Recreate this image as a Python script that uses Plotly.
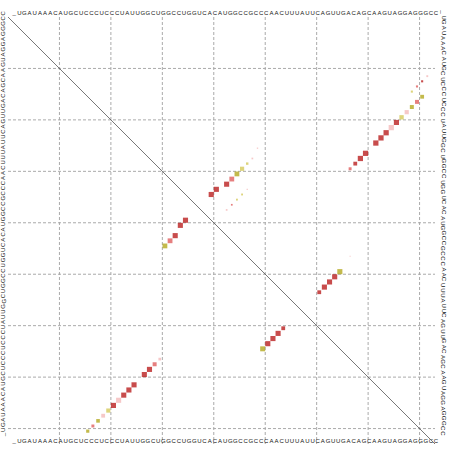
import plotly.graph_objects as go
import math

# label string: "_" followed by the consensus sequence (83 cells)
SEQ = "_UGAUAAACAUGCUCCCUCCCUAUUGGCUGGCCUGGUCACAUGGCCGCCCAACUUUAUUCAGUUGACAGCAAGUAGGAGGGCC"

# upper triangle: pair probabilities (i, j, p, colour class)
up_i = [29, 28, 27, 26, 24, 23, 22, 21, 20, 19, 18, 17, 16, 15,
        14, 13, 12, 11,
        34, 33, 32, 31, 30, 29, 28,
        34, 35, 36, 37, 27, 25, 33,
        53, 52, 51, 50, 49, 46]
up_j = [66, 67, 68, 69, 71, 72, 73, 74, 75, 76, 77, 78, 79, 80,
        78, 79, 80, 81,
        39, 40, 42, 43, 44, 45, 46,
        45, 44, 43, 42, 47, 48, 46,
        60, 61, 62, 63, 64, 66]
up_p = [0.30, 0.50, 0.95, 0.95, 0.95, 0.95, 0.95, 0.95, 0.90, 0.65, 0.60, 0.55, 0.55, 0.50,
        0.15, 0.15, 0.15, 0.12,
        0.90, 0.90, 0.90, 0.80, 0.80, 0.60, 0.20,
        0.12, 0.12, 0.10, 0.10, 0.10, 0.06, 0.05,
        0.50, 0.90, 0.90, 0.90, 0.90, 0.04]
up_c = ["r1", "r0", "r0", "r0", "r0", "r0", "r0", "r2", "r0", "o1", "r2", "o0", "r1", "o0",
        "o1", "r1", "r0", "r2",
        "r0", "r0", "r0", "r1", "o0", "o1", "o1",
        "o1", "o1", "r1", "r2", "r2", "r2", "r2",
        "r0", "r0", "r0", "r0", "o0", "r2"]

# lower triangle: MFE structure pairs
lo_i = [15, 16, 17, 18, 19, 20, 21, 22, 23, 24, 26, 27, 28, 29,
        30, 31, 32, 33, 34,
        49, 50, 51, 52, 53]
lo_j = [80, 79, 78, 77, 76, 75, 74, 73, 72, 71, 69, 68, 67, 66,
        44, 43, 42, 40, 39,
        64, 63, 62, 61, 60]
lo_p = [0.35, 0.30, 0.45, 0.50, 0.60, 0.90, 0.90, 0.90, 0.90, 0.90, 0.90, 0.90, 0.55, 0.25,
        0.80, 0.80, 0.90, 0.90, 0.90,
        0.85, 0.90, 0.90, 0.90, 0.50]
lo_c = ["o0", "r1", "o0", "r2", "o1", "r0", "r2", "r0", "r0", "r0", "r0", "r0", "r1", "r2",
        "o0", "r1", "r0", "r0", "r0",
        "o0", "r0", "r0", "r0", "r0"]

COLORS = {"r0": "#b00000", "r1": "#dc4848", "r2": "#f2b0b0",
          "o0": "#aa9c00", "o1": "#cfc244", "o2": "#e8e0a0"}

N = len(SEQ)
W, H = 452, 451
L, T, S = 8, 17, 427          # plot square in page pixels
CELL = S / N
MAXBOX = 5.4
FONT = dict(size=6, color="#111", family="Liberation Sans")


def dx(px):
    return (px - L) / CELL - 0.5


def dy(py):
    return (py - T) / CELL - 0.5


fig = go.Figure()

fig.add_trace(go.Scatter(
    x=up_j, y=up_i, mode="markers", hoverinfo="skip",
    marker=dict(symbol="square", size=[MAXBOX * math.sqrt(p) for p in up_p],
                color=[COLORS[c] for c in up_c], line=dict(width=0))))
fig.add_trace(go.Scatter(
    x=lo_i, y=lo_j, mode="markers", hoverinfo="skip",
    marker=dict(symbol="square", size=[MAXBOX * math.sqrt(p) for p in lo_p],
                color=[COLORS[c] for c in lo_c], line=dict(width=0))))

# top and bottom sequence rows
ks = list(range(N))
letters = list(SEQ)
fig.add_trace(go.Scatter(x=[k + 0.7 for k in ks], y=[dy(13.8)] * N, mode="text", text=letters,
                         textfont=FONT, cliponaxis=False, hoverinfo="skip"))
fig.add_trace(go.Scatter(x=[k + 0.7 for k in ks], y=[dy(441.5)] * N, mode="text", text=letters,
                         textfont=FONT, cliponaxis=False, hoverinfo="skip"))

ann = []
for k, ch in enumerate(SEQ):
    ann.append(dict(x=dx(3), y=80.8 - k, xref="x", yref="y", text=ch, showarrow=False,
                    textangle=-90, font=FONT))
    ann.append(dict(x=dx(443.5), y=k - 1.5, xref="x", yref="y", text=ch, showarrow=False,
                    textangle=90, font=FONT))

shapes = []
for n in range(1, 9):
    g = 10 * n - 0.5
    shapes.append(dict(type="line", xref="x", yref="y", x0=g, x1=g, y0=-0.5, y1=N - 0.5,
                       line=dict(color="#aaaaaa", width=1, dash="3px,2px"), layer="below"))
    shapes.append(dict(type="line", xref="x", yref="y", y0=g, y1=g, x0=-0.5, x1=N - 0.5,
                       line=dict(color="#aaaaaa", width=1, dash="3px,2px"), layer="below"))
shapes.append(dict(type="line", xref="x", yref="y", x0=-0.5, y0=-0.5, x1=N - 0.5, y1=N - 0.5,
                   line=dict(color="#555", width=0.8)))

axis = dict(showgrid=False, showticklabels=False, ticks="", zeroline=False,
            showline=False, fixedrange=True)

fig.update_layout(
    width=W, height=H, margin=dict(l=0, r=0, t=0, b=0),
    paper_bgcolor="white", plot_bgcolor="white", showlegend=False,
    xaxis=dict(axis, range=[dx(0), dx(W)]),
    yaxis=dict(axis, range=[dy(H), dy(0)]),
    annotations=ann, shapes=shapes)

fig.write_html("out.html", config={"displayModeBar": False},
               post_script="document.body.style.margin='0';")
